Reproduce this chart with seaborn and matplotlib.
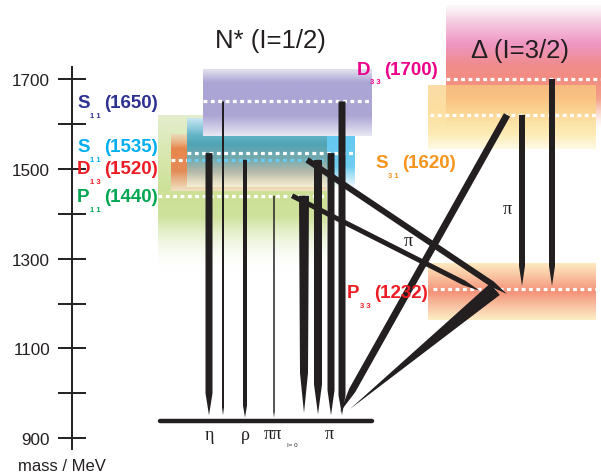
import numpy as np
import seaborn as sns
import matplotlib.pyplot as plt

# resonances (name, mass in MeV)
res_names = ["S11(1650)", "S11(1535)", "D13(1520)", "P11(1440)", "D33(1700)", "S31(1620)", "P33(1232)"]
res_mass = [1650, 1535, 1520, 1440, 1700, 1620, 1232]
res_letter = ["S", "S", "D", "P", "D", "S", "P"]
res_sub = ["1 1", "1 1", "1 3", "1 1", "3 3", "3 1", "3 3"]
res_colors = ["#2e3192", "#00aeef", "#ed1c24", "#00a651", "#ec008c", "#f7941d", "#ed1c24"]
# visible width bands (MeV)
band_hi = [1722, 1611, 1577, 1618, 1865, 1684, 1288]
band_lo = [1573, 1459, 1451, 1270, 1589, 1543, 1163]
nucleon_mass = 938

# decays
dec_from = ["S11(1535)", "S11(1650)", "D13(1520)", "P11(1440)", "P11(1440)", "D13(1520)",
            "S11(1535)", "S11(1650)", "P11(1440)", "D13(1520)", "S31(1620)", "P33(1232)",
            "S31(1620)", "D33(1700)"]
dec_to = ["N", "N", "N", "N", "N", "N", "N", "N",
          "P33(1232)", "P33(1232)", "N", "N", "P33(1232)", "P33(1232)"]

mass_ticks = [900, 1000, 1100, 1200, 1300, 1400, 1500, 1600, 1700]
mass_ticklabels = ["900", "", "1100", "", "1300", "", "1500", "", "1700"]

# ---- layout (pixels) ----
K = 0.449   # px per MeV
Y0 = 80     # px of 1700 MeV


def m2y(m):
    return Y0 + (1700 - m) * K


def y2m(y):
    return 1700 - (y - Y0) / K


level_x0 = [203, 187, 171, 158, 446, 430, 433]
level_x1 = [372, 355, 340, 327, 601, 596, 596]
level_z = [1.6, 1.4, 1.2, 3, 3, 3, 3]
band_x0 = [203, 187, 171, 158, 446, 428, 428]
band_x1 = [372, 355, 327, 327, 601, 596, 596]
band_z = [1.5, 1.3, 1.1, 1.0, 1.0, 1.1, 1.0]
label_x = [77, 77, 77, 77, 357, 375, 347]
label_y = [103, 147, 170, 197, 70, 163, 294]

band_stops = [
    [(0, (228, 226, 240), 1), (0.2, (170, 165, 212), 1), (0.7, (172, 166, 212), 1), (1, (232, 232, 244), 1)],
    [(0, (200, 232, 244), 1), (0.25, (100, 180, 200), 1), (0.37, (80, 165, 182), 1), (0.6, (120, 170, 172), 1),
     (0.78, (180, 185, 170), 1), (0.92, (228, 222, 196), 1), (1, (242, 238, 210), 1)],
    [(0, (245, 200, 170), 0.5), (0.25, (232, 134, 76), 1), (0.65, (228, 140, 88), 1), (1, (245, 228, 200), 0.9)],
    [(0, (228, 238, 205), 1), (0.3, (214, 230, 170), 1), (0.5, (204, 224, 150), 1), (0.65, (206, 226, 156), 1),
     (1, (255, 255, 255), 0)],
    [(0, (252, 240, 246), 0.5), (0.11, (248, 212, 230), 1), (0.31, (238, 150, 195), 1),
     (0.48, (240, 140, 142), 1), (0.6, (242, 140, 128), 1), (0.76, (245, 160, 140), 1), (1, (250, 215, 190), 0)],
    [(0, (250, 205, 128), 0.7), (0.4, (252, 212, 128), 0.75), (0.75, (253, 230, 160), 0.8), (1, (255, 248, 215), 0.7)],
    [(0, (253, 232, 185), 0.9), (0.5, (244, 145, 120), 1), (1, (253, 236, 192), 0.9)],
]
# brighter right-hand part of the S11(1535) band
cyan_right_x = 327
cyan_right_stops = [(0, (205, 236, 248), 1), (0.25, (100, 200, 240), 1), (0.7, (110, 205, 240), 1),
                    (1, (245, 250, 252), 1)]

dec_x0 = [209, 223, 245, 274, 304, 318, 331, 342, 292, 307, 507, 495, 522, 552]
dec_x1 = [209, 223, 245, 274, 304, 318, 331, 342, 480, 507, 340, 350, 522, 552]
dec_w0 = [7, 2, 4, 1.5, 10, 8, 7, 7, 5, 6, 7, 15, 6, 6]
dec_w1 = [7, 2, 4, 1.5, 8, 8, 7, 7, 5, 6, 7, 15, 6, 6]
dec_taper = [22, 8, 12, 6, 40, 30, 25, 20, 18, 18, 25, 190, 20, 20]
dec_gap = [13, 13, 8, 8, 18, 15, 13, 13, -4, -11, 20, 27, 7, 7]

sns.set_style("white")
plt.rcParams['font.family'] = ['Liberation Sans', 'DejaVu Sans']

fig = plt.figure(figsize=(6.01, 4.77), dpi=100)
ax = fig.add_axes([0, 0, 1, 1])
mass_of = dict(zip(res_names, res_mass))
mass_of["N"] = nucleon_mass


def draw_band(x0, x1, lo, hi, stops, z):
    t = np.linspace(0, 1, 200)
    ts = [s[0] for s in stops]
    rgba = np.zeros((200, 1, 4))
    for c in range(3):
        rgba[:, 0, c] = np.interp(t, ts, [s[1][c] / 255 for s in stops])
    rgba[:, 0, 3] = np.interp(t, ts, [s[2] for s in stops])
    ax.imshow(rgba, extent=(x0, x1, lo, hi), origin='upper', aspect='auto',
              interpolation='bilinear', zorder=z)


# width bands as vertical gradients
for i in range(len(res_names)):
    draw_band(band_x0[i], band_x1[i], band_lo[i], band_hi[i], band_stops[i], band_z[i])
draw_band(cyan_right_x, band_x1[1], band_lo[1], band_hi[1], cyan_right_stops, band_z[1] + 0.01)

# dotted white mass lines
dots = dict(lw=2.3, dashes=(1.2, 1.1), dash_capstyle="butt")
for i in range(len(res_names)):
    ax.plot([level_x0[i], level_x1[i]], [res_mass[i]] * 2, color="white", zorder=level_z[i], **dots)
# part of the D13 line seen through the S11(1535) band
ax.plot([band_x0[1], level_x1[2]], [res_mass[2]] * 2, color="#6ccaf0", zorder=1.35, **dots)

# ground state line
sns.lineplot(x=[160, 372], y=[nucleon_mass, nucleon_mass], color="#231f20", lw=3.2, ax=ax, zorder=5)

# decay arrows (tapered)
for i in range(len(dec_from)):
    p0 = np.array([dec_x0[i], m2y(mass_of[dec_from[i]])])
    p1 = np.array([dec_x1[i], m2y(mass_of[dec_to[i]] + dec_gap[i])])
    d = p1 - p0
    u = d / np.hypot(*d)
    n = np.array([-u[1], u[0]])
    pt = p1 - u * min(dec_taper[i], np.hypot(*d))
    pts = [p0 + n * dec_w0[i] / 2, pt + n * dec_w1[i] / 2, p1,
           pt - n * dec_w1[i] / 2, p0 - n * dec_w0[i] / 2]
    ax.fill([p[0] for p in pts], [y2m(p[1]) for p in pts], color="#231f20", lw=0, zorder=5)

# resonance labels
for i in range(len(res_names)):
    c = res_colors[i]
    ax.text(label_x[i], y2m(label_y[i]), res_letter[i], color=c, fontsize=13.5,
            fontweight="bold", va="center", ha="left", zorder=6)
    ax.text(label_x[i] + 13, y2m(label_y[i] + 13), res_sub[i], color=c, fontsize=5.5,
            fontweight="bold", va="center", ha="left", zorder=6)
    ax.text(label_x[i] + 27, y2m(label_y[i]), "(" + res_names[i][4:], color=c, fontsize=13.5,
            fontweight="bold", va="center", ha="left", zorder=6)

# titles and channel labels
ax.text(270, y2m(41), "N* (I=1/2)", fontsize=18.5, ha="center", va="center", color="#231f20")
ax.text(520, y2m(51), "\u0394 (I=3/2)", fontsize=18.5, ha="center", va="center", color="#231f20", zorder=6)
greek = dict(fontsize=13, ha="center", va="center", color="#231f20", family=["Liberation Serif", "DejaVu Serif"])
ax.text(209, y2m(436), "\u03b7", **greek)
ax.text(245, y2m(436), "\u03c1", **greek)
ax.text(273, y2m(435), "\u03c0\u03c0", **greek)
ax.text(292, y2m(446), "I= 0", fontsize=4.5, ha="center", va="center", color="#231f20")
ax.text(329, y2m(435), "\u03c0", **greek)
ax.text(408, y2m(241), "\u03c0", **greek)
ax.text(507, y2m(209), "\u03c0", **greek)
ax.text(62, y2m(467), "mass / MeV", fontsize=12, ha="center", va="center", color="#231f20")

# mass axis
ax.set_xlim(0, 601)
ax.set_ylim(y2m(477), y2m(0))
ax.set_xlabel("")
ax.set_ylabel("")
ax.set_xticks([])
ax.set_yticks(mass_ticks, labels=mass_ticklabels)
for s in ["top", "right", "bottom"]:
    ax.spines[s].set_visible(False)
ax.spines["left"].set_position(("data", 72))
ax.spines["left"].set_bounds(y2m(450), y2m(68))
ax.spines["left"].set_linewidth(1.4)
ax.spines["left"].set_color("#231f20")
ax.tick_params(axis="y", left=True, direction="inout", length=19.5, width=1.4, color="#231f20",
               labelsize=12.3, pad=6, labelcolor="#231f20")
ax.set_facecolor("white")

fig.savefig("out.png", dpi=100)
